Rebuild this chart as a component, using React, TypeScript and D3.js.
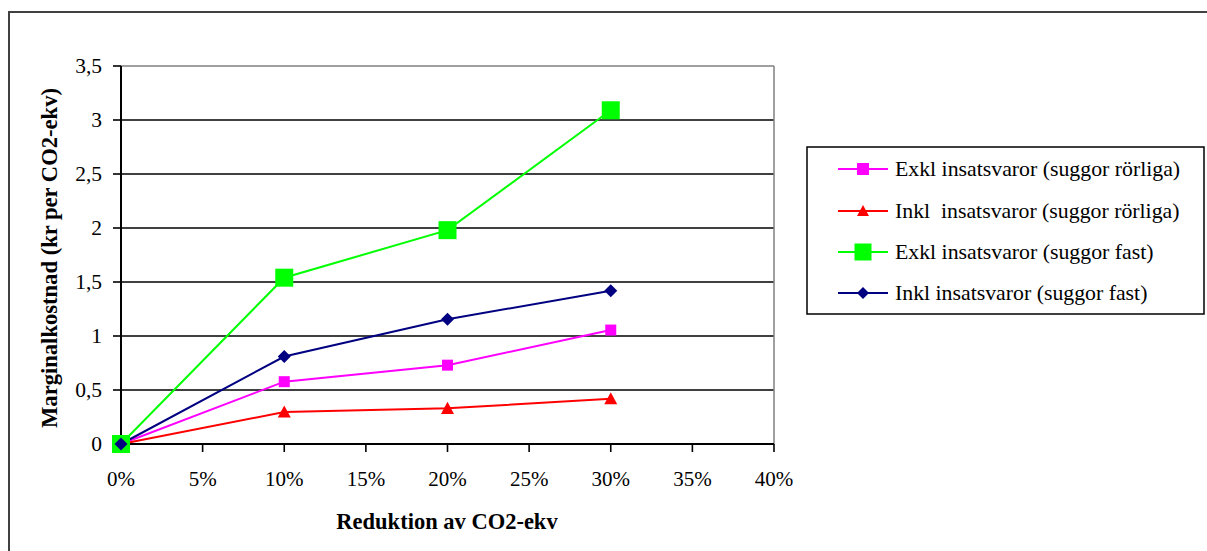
import React from "react";
import * as d3 from "d3";

// Reduction levels (share of CO2-equivalents)
const reductions = [0, 0.1, 0.2, 0.3];

// Marginal cost (kr per CO2-ekv) for each scenario
const exklRorliga = [0, 0.577, 0.73, 1.055];
const inklRorliga = [0, 0.296, 0.33, 0.42];
const exklFast = [0, 1.54, 1.98, 3.09];
const inklFast = [0, 0.81, 1.155, 1.42];

const xTicks = [0, 0.05, 0.1, 0.15, 0.2, 0.25, 0.3, 0.35, 0.4];
const yTicks = [0, 0.5, 1, 1.5, 2, 2.5, 3, 3.5];

type Marker = "square" | "triangle" | "diamond";

const series: { name: string; values: number[]; color: string; marker: Marker; size: number }[] = [
  { name: "Exkl insatsvaror (suggor rörliga)", values: exklRorliga, color: "#FF00FF", marker: "square", size: 11 },
  { name: "Inkl  insatsvaror (suggor rörliga)", values: inklRorliga, color: "#FF0000", marker: "triangle", size: 13 },
  { name: "Exkl insatsvaror (suggor fast)", values: exklFast, color: "#00FF00", marker: "square", size: 18 },
  { name: "Inkl insatsvaror (suggor fast)", values: inklFast, color: "#000080", marker: "diamond", size: 13 },
];

const W = 1207;
const H = 551;
const plot = { left: 121, right: 774, top: 66, bottom: 444 };
const font = "Liberation Serif, DejaVu Serif, serif";

function MarkerShape({ kind, x, y, size, color }: { kind: Marker; x: number; y: number; size: number; color: string }) {
  const h = size / 2;
  if (kind === "square") {
    return <rect x={x - h} y={y - h} width={size} height={size} fill={color} />;
  }
  if (kind === "triangle") {
    const pts = [
      [x, y - h],
      [x + h, y + h * 0.85],
      [x - h, y + h * 0.85],
    ];
    return <polygon points={pts.map((p) => p.join(",")).join(" ")} fill={color} />;
  }
  const pts = [
    [x, y - h],
    [x + h, y],
    [x, y + h],
    [x - h, y],
  ];
  return <polygon points={pts.map((p) => p.join(",")).join(" ")} fill={color} />;
}

export default function App() {
  const x = d3.scaleLinear().domain([0, 0.4]).range([plot.left, plot.right]);
  const y = d3.scaleLinear().domain([0, 3.5]).range([plot.bottom, plot.top]);
  const fmtX = d3.format(".0%");
  const fmtY = (v: number) => String(v).replace(".", ",");

  const lineGen = d3
    .line<number>()
    .x((_, i) => x(reductions[i]))
    .y((v) => y(v));

  const legend = { x: 807, y: 147, w: 397, h: 167 };
  const legendRows = [169, 211, 252, 293];

  return (
    <svg
      width={W}
      height={H}
      style={{ position: "absolute", left: 0, top: 0, background: "#fff", fontFamily: font }}
    >
      <rect x={0} y={0} width={W} height={H} fill="#fff" />
      {/* chart area frame */}
      <path d={`M9,${H + 5} L9,12 L${W + 5},12`} fill="none" stroke="#404040" strokeWidth={2} />

      {/* horizontal gridlines */}
      {yTicks.map((t) => (
        <line
          key={`g${t}`}
          x1={plot.left}
          x2={plot.right}
          y1={y(t)}
          y2={y(t)}
          stroke={t === 3.5 ? "#808080" : "#000"}
          strokeWidth={t === 3.5 ? 1.5 : 1.6}
        />
      ))}
      {/* right edge of plot area */}
      <line x1={plot.right} x2={plot.right} y1={plot.top} y2={plot.bottom} stroke="#808080" strokeWidth={1.5} />

      {/* y axis */}
      <line x1={plot.left} x2={plot.left} y1={plot.top} y2={plot.bottom} stroke="#000" strokeWidth={2} />
      {yTicks.map((t) => (
        <g key={`y${t}`}>
          <line x1={plot.left - 8} x2={plot.left} y1={y(t)} y2={y(t)} stroke="#000" strokeWidth={1.6} />
          <text x={plot.left - 19} y={y(t) + 7} textAnchor="end" fontSize={21.5} fill="#000">
            {fmtY(t)}
          </text>
        </g>
      ))}

      {/* x axis */}
      <line x1={plot.left} x2={plot.right} y1={plot.bottom} y2={plot.bottom} stroke="#000" strokeWidth={2} />
      {xTicks.map((t) => (
        <g key={`x${t}`}>
          <line x1={x(t)} x2={x(t)} y1={plot.bottom} y2={plot.bottom + 8} stroke="#000" strokeWidth={1.6} />
          <text x={x(t)} y={486} textAnchor="middle" fontSize={21} fill="#000">
            {fmtX(t)}
          </text>
        </g>
      ))}

      {/* axis titles */}
      <text x={447} y={529} textAnchor="middle" fontSize={22.5} fontWeight="bold" fill="#000">
        Reduktion av CO2-ekv
      </text>
      <text
        transform={`translate(57,258) rotate(-90)`}
        textAnchor="middle"
        fontSize={22.6}
        fontWeight="bold"
        fill="#000"
      >
        Marginalkostnad (kr per CO2-ekv)
      </text>

      {/* series lines */}
      {series.map((s) => (
        <path key={`l${s.name}`} d={lineGen(s.values) ?? ""} fill="none" stroke={s.color} strokeWidth={2} />
      ))}
      {/* series markers */}
      {series.map((s) =>
        s.values.map((v, i) => (
          <MarkerShape
            key={`m${s.name}${i}`}
            kind={s.marker}
            x={x(reductions[i])}
            y={y(v)}
            size={s.size}
            color={s.color}
          />
        ))
      )}

      {/* legend */}
      <rect x={legend.x} y={legend.y} width={legend.w} height={legend.h} fill="#fff" stroke="#000" strokeWidth={1.5} />
      {series.map((s, i) => (
        <g key={`lg${s.name}`}>
          <line x1={838} x2={888} y1={legendRows[i]} y2={legendRows[i]} stroke={s.color} strokeWidth={2} />
          <MarkerShape kind={s.marker} x={863} y={legendRows[i]} size={s.size === 18 ? 17 : 12} color={s.color} />
          <text x={895} y={legendRows[i] + 7} fontSize={21.8} fill="#000" style={{ whiteSpace: "pre" }}>
            {s.name}
          </text>
        </g>
      ))}
    </svg>
  );
}
